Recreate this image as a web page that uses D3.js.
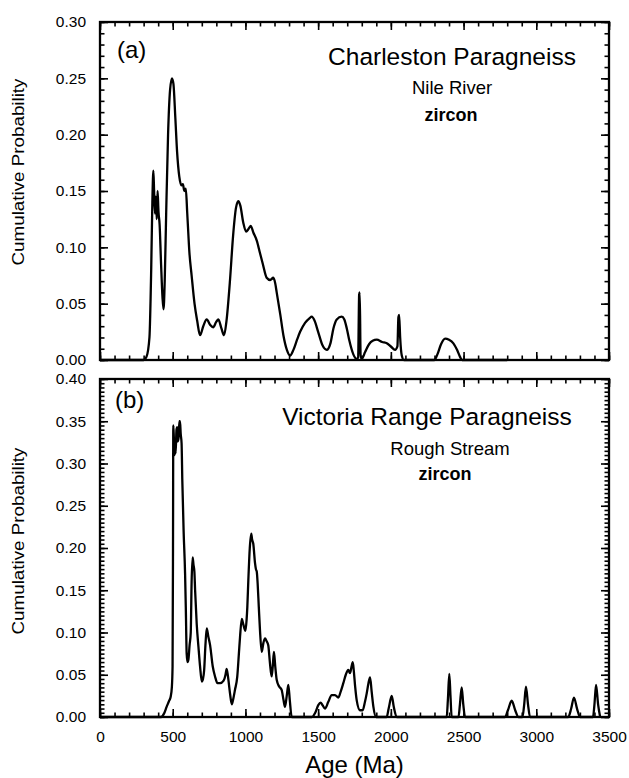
<!DOCTYPE html>
<html>
<head>
<meta charset="utf-8">
<script src="https://cdn.jsdelivr.net/npm/d3@7"></script>
<style>
  body { margin: 0; background: #fff; }
  svg { font-family: 'Liberation Sans', Arial, Helvetica, sans-serif; background: #fff; }
  .frame { fill: none; stroke: #000; stroke-width: 2.3; }
  .curve { fill: none; stroke: #000; stroke-width: 2.3; stroke-linejoin: round; }
  .tick line { stroke: #000; stroke-width: 1.6; }
  .tick text { fill: #000; }
</style>
</head>
<body>
<div id="chart"></div>
<script>
// (a) Charleston Paragneiss, Nile River - ages (Ma) and cumulative probability
const ageA = [0, 300, 320, 340, 352, 360, 367, 372, 378, 384, 390, 396, 402, 410, 420, 430, 437, 445, 455, 468, 482, 495,
  505, 518, 530, 545, 560, 570, 580, 590, 600, 615, 630, 650, 668, 688, 710, 734, 758, 778, 800, 814, 835, 853, 870,
  894, 915, 935, 951, 965, 985, 1005, 1020, 1036, 1055, 1078, 1100, 1120, 1146, 1170, 1192, 1205, 1215, 1240, 1261,
  1285, 1307, 1330, 1355, 1376, 1410, 1440, 1456, 1475, 1500, 1530, 1559, 1585, 1605, 1628, 1662, 1680, 1697, 1715,
  1742, 1765, 1775, 1782, 1786, 1792, 1800, 1823, 1850, 1875, 1903, 1940, 1972, 2000, 2029, 2045, 2052, 2057, 2064,
  2075, 2090, 2300, 2320, 2345, 2373, 2400, 2430, 2455, 2475, 2490, 2800];
const probA = [0, 0, 0.003, 0.02, 0.08, 0.14, 0.168, 0.15, 0.13, 0.145, 0.125, 0.15, 0.132, 0.12, 0.085, 0.055, 0.045, 0.07, 0.13, 0.2, 0.24, 0.25,
  0.245, 0.215, 0.185, 0.163, 0.155, 0.156, 0.15, 0.152, 0.13, 0.095, 0.075, 0.05, 0.035, 0.022, 0.03, 0.036, 0.031, 0.029, 0.034, 0.036, 0.028, 0.022, 0.035,
  0.071, 0.11, 0.135, 0.141, 0.137, 0.122, 0.114, 0.116, 0.119, 0.113, 0.106, 0.095, 0.085, 0.073, 0.071, 0.073, 0.068, 0.06, 0.04, 0.022,
  0.009, 0.004, 0.009, 0.018, 0.025, 0.033, 0.037, 0.0385, 0.035, 0.025, 0.013, 0.009, 0.015, 0.028, 0.036, 0.0385, 0.036, 0.028, 0.017,
  0.005, 0.001, 0.002, 0.058, 0.06, 0.004, 0.001, 0.007, 0.014, 0.017, 0.018, 0.016, 0.0148, 0.012, 0.009, 0.012, 0.038, 0.04, 0.02,
  0.004, 0, 0, 0.005, 0.014, 0.019, 0.018, 0.0148, 0.009, 0.003, 0, 0];

// (b) Victoria Range Paragneiss, Rough Stream
const ageB = [0, 420, 440, 458, 475, 486, 494, 499, 502, 504, 508, 512, 516, 520, 526, 531, 534, 540, 546, 550, 555, 561,
  566, 575, 585, 590, 596, 602, 608, 616, 624, 630, 637, 643, 649, 654, 665, 677, 688, 700, 708, 716, 725, 734, 745,
  757, 775, 791, 808, 826, 850, 863, 871, 880, 894, 906, 917, 928, 944, 955, 963, 975, 985, 1000, 1008, 1013, 1020,
  1030, 1040, 1046, 1054, 1066, 1072, 1078, 1084, 1092, 1100, 1112, 1124, 1135, 1145, 1157, 1168, 1180, 1188, 1196,
  1205, 1215, 1232, 1249, 1262, 1272, 1284, 1295, 1305, 1318, 1456, 1480, 1501, 1517, 1530, 1547, 1570, 1593, 1616,
  1639, 1655, 1673, 1690, 1707, 1719, 1730, 1738, 1745, 1755, 1765, 1788, 1806, 1822, 1834, 1846, 1857, 1868, 1880,
  1898, 1971, 1985, 2006, 2020, 2040, 2384, 2392, 2402, 2410, 2418, 2465, 2475, 2487, 2498, 2510, 2785, 2805, 2831,
  2855, 2877, 2905, 2917, 2929, 2943, 2957, 3220, 3240, 3259, 3280, 3301, 3390, 3400, 3411, 3425, 3439];
const probB = [0, 0, 0.004, 0.012, 0.019, 0.024, 0.035, 0.06, 0.2, 0.345, 0.33, 0.31, 0.32, 0.312, 0.34, 0.343, 0.326, 0.33, 0.35, 0.35, 0.335, 0.324,
  0.28, 0.22, 0.17, 0.13, 0.075, 0.065, 0.068, 0.085, 0.1, 0.16, 0.189, 0.18, 0.172, 0.15, 0.11, 0.083, 0.06, 0.042, 0.045, 0.055, 0.085, 0.105, 0.095,
  0.085, 0.06, 0.048, 0.04, 0.04, 0.043, 0.05, 0.057, 0.048, 0.028, 0.015, 0.022, 0.032, 0.048, 0.075, 0.095, 0.116, 0.11, 0.102, 0.115, 0.13, 0.162,
  0.2, 0.217, 0.21, 0.205, 0.182, 0.175, 0.172, 0.158, 0.13, 0.103, 0.077, 0.088, 0.093, 0.09, 0.085, 0.065, 0.048, 0.06, 0.077,
  0.06, 0.044, 0.036, 0.032, 0.02, 0.012, 0.025, 0.038, 0.02, 0, 0, 0.005, 0.014, 0.017, 0.014, 0.01, 0.018, 0.026, 0.026,
  0.023, 0.03, 0.04, 0.05, 0.0556, 0.052, 0.06, 0.065, 0.055, 0.035, 0.02, 0.008, 0.008, 0.018, 0.028, 0.04, 0.047, 0.03, 0.012,
  0, 0, 0.01, 0.025, 0.012, 0, 0, 0.02, 0.051, 0.025, 0, 0, 0.015, 0.035, 0.015, 0, 0, 0.008, 0.0193,
  0.008, 0, 0, 0.015, 0.036, 0.015, 0, 0, 0.01, 0.023, 0.01, 0, 0, 0.015, 0.038, 0.015, 0];

const xTicks = [0, 500, 1000, 1500, 2000, 2500, 3000, 3500];
const yTicksA = [0, 0.05, 0.10, 0.15, 0.20, 0.25, 0.30];
const yTicksB = [0, 0.05, 0.10, 0.15, 0.20, 0.25, 0.30, 0.35, 0.40];

class AgePanel {

  constructor(_config, data) {
    this.config = {
      parent: _config.parent,
      left: 100,
      top: _config.top,
      width: 509,
      height: 338,
      yTicks: _config.yTicks,
      yMinorStep: _config.yMinorStep,
      showXLabels: _config.showXLabels || false,
      text: _config.text
    }
    this.data = data;
    this.initVis();
  }

  initVis() {
    let vis = this;
    const c = vis.config;

    vis.g = c.parent.append('g')
        .attr('transform', `translate(${c.left},${c.top})`);

    vis.xScale = d3.scaleLinear()
        .domain([0, 3500])
        .range([0, c.width]);

    vis.yScale = d3.scaleLinear()
        .domain([0, d3.max(c.yTicks)])
        .range([c.height, 0]);

    vis.line = d3.line()
        .x(d => vis.xScale(d[0]))
        .y(d => vis.yScale(d[1]))
        .curve(d3.curveMonotoneX);

    vis.renderVis();
  }

  renderVis() {
    let vis = this;
    const c = vis.config;
    const yMax = d3.max(c.yTicks);

    const xMinor = d3.range(0, 36).map(i => i * 100);
    const yMinor = d3.range(0, Math.round(yMax / c.yMinorStep) + 1).map(i => i * c.yMinorStep);

    // ticks on all four sides, pointing inwards
    const sides = [
      {axis: d3.axisBottom, scale: vis.xScale, minor: xMinor, major: xTicks, t: `translate(0,${c.height})`, labels: c.showXLabels, fmt: d3.format('d')},
      {axis: d3.axisTop, scale: vis.xScale, minor: xMinor, major: xTicks, t: null, labels: false},
      {axis: d3.axisLeft, scale: vis.yScale, minor: yMinor, major: c.yTicks, t: null, labels: true, fmt: d3.format('.2f')},
      {axis: d3.axisRight, scale: vis.yScale, minor: yMinor, major: c.yTicks, t: `translate(${c.width},0)`, labels: false}
    ];

    sides.forEach(s => {
      const minorG = vis.g.append('g')
          .attr('transform', s.t)
          .call(s.axis(s.scale).tickValues(s.minor).tickSize(-4.5).tickFormat(''));
      minorG.select('.domain').remove();

      const majorG = vis.g.append('g')
          .attr('transform', s.t)
          .call(s.axis(s.scale).tickValues(s.major).tickSize(-8).tickPadding(14)
            .tickFormat(s.labels ? s.fmt : ''));
      majorG.select('.domain').remove();
      majorG.attr('font-family', null).attr('font-size', '15.5px');
    });

    vis.g.append('rect')
        .attr('class', 'frame')
        .attr('width', c.width)
        .attr('height', c.height);

    vis.g.append('path')
        .datum(vis.data)
        .attr('class', 'curve')
        .attr('d', vis.line);

    const t = c.text;

    vis.g.append('text')
        .attr('x', t.tagX).attr('y', t.tagY)
        .attr('font-size', '24px')
        .text(t.tag);

    vis.g.append('text')
        .attr('x', t.titleX).attr('y', t.titleY)
        .attr('text-anchor', 'middle')
        .attr('font-size', '24.5px')
        .text(t.title);

    vis.g.append('text')
        .attr('x', t.subX).attr('y', t.subY)
        .attr('text-anchor', 'middle')
        .attr('font-size', '18.5px')
        .text(t.sub);

    vis.g.append('text')
        .attr('x', t.minX).attr('y', t.minY)
        .attr('text-anchor', 'middle')
        .attr('font-size', '18px')
        .attr('font-weight', 'bold')
        .text(t.mineral);

    // y axis title (stretched like the original scan)
    vis.g.append('text')
        .attr('transform', `translate(-76,${t.yLabelY}) rotate(-90)`)
        .attr('text-anchor', 'middle')
        .attr('font-size', '16px')
        .attr('textLength', 187)
        .attr('lengthAdjust', 'spacingAndGlyphs')
        .text('Cumulative Probability');

    if (c.showXLabels) {
      vis.g.append('text')
          .attr('x', c.width / 2)
          .attr('y', 394)
          .attr('text-anchor', 'middle')
          .attr('font-size', '24px')
          .text('Age (Ma)');
    }
  }
}

const svg = d3.select('#chart').append('svg')
    .attr('width', 629)
    .attr('height', 778);

new AgePanel({
  parent: svg,
  top: 22,
  yTicks: yTicksA,
  yMinorStep: 0.01,
  text: {tag: '(a)', tagX: 17, tagY: 36, title: 'Charleston Paragneiss', titleX: 352, titleY: 43,
    sub: 'Nile River', subX: 352, subY: 72, mineral: 'zircon', minX: 351, minY: 99, yLabelY: 150}
}, ageA.map((a, i) => [a, probA[i]]));

new AgePanel({
  parent: svg,
  top: 379,
  yTicks: yTicksB,
  yMinorStep: 0.005,
  showXLabels: true,
  text: {tag: '(b)', tagX: 15, tagY: 29, title: 'Victoria Range Paragneiss', titleX: 327, titleY: 46,
    sub: 'Rough Stream', subX: 350, subY: 76, mineral: 'zircon', minX: 345, minY: 101, yLabelY: 162}
}, ageB.map((a, i) => [a, probB[i]]));
</script>
</body>
</html>
